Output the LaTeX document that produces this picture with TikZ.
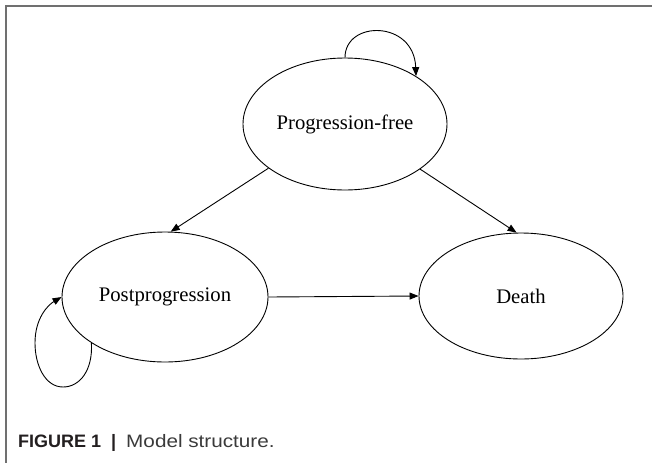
\documentclass[tikz,border=0pt]{standalone}
\usepackage{fontspec}
\setmainfont{Liberation Serif}
\newfontfamily\capfont{Liberation Sans}
\newfontfamily\capwidefont[FakeStretch=1.15]{Liberation Sans}
\usetikzlibrary{shapes.geometric,arrows.meta}
\definecolor{framegray}{HTML}{707070}
\definecolor{captext}{HTML}{231F20}
\definecolor{capgray}{HTML}{3A3A3A}
\begin{document}
\begin{tikzpicture}[x=1pt,y=-1pt,
  statebox/.style={draw=black, line width=0.9pt, ellipse, inner sep=0pt,
    font=\fontsize{20.7}{24}\selectfont},
  arr/.style={draw=black, line width=0.9pt, -{Triangle[length=9pt,width=7pt]}},
  framelines/.style={draw=framegray, line width=1.2pt}
]
\useasboundingbox (0,0) rectangle (652,463);
% frame (top and left edges)
\coordinate (fr1) at (652,6);
\coordinate (fr2) at (6,6);
\coordinate (fr3) at (6,463);
\draw[framelines] (fr1) -- (fr2) -- (fr3);
% states
\node[statebox, minimum width=204pt, minimum height=132pt] (pf) at (345,124) {Progression-free};
\node[statebox, minimum width=206pt, minimum height=130pt] (post) at (165,297) {Postprogression};
\node[statebox, minimum width=204pt, minimum height=126pt] (death) at (521,296) {Death};
% transitions
\draw[arr] (pf.210.5) -- (post.85.6);
\draw[arr] (pf.329.2) -- (death.94.6);
\draw[arr] (post.east) -- (death.west);
% self loops
\draw[arr] (pf.north) .. controls (345,20) and (414,20) .. (pf.34);
\draw[arr] (post.212.6) .. controls (93,370) and (80,387) .. (63,387)
  .. controls (45,387) and (35,365) .. (35,343)
  .. controls (35,318) and (48,305) .. (post.west);
% caption
\node[anchor=base west, inner sep=0pt, font=\fontsize{18}{20}\selectfont, text=capgray] (cap) at (18,447)
  {{\capfont\color{captext}\bfseries FIGURE 1\hspace{10pt}|}\hspace{10pt}{\capwidefont Model structure.}};
\end{tikzpicture}
\end{document}
